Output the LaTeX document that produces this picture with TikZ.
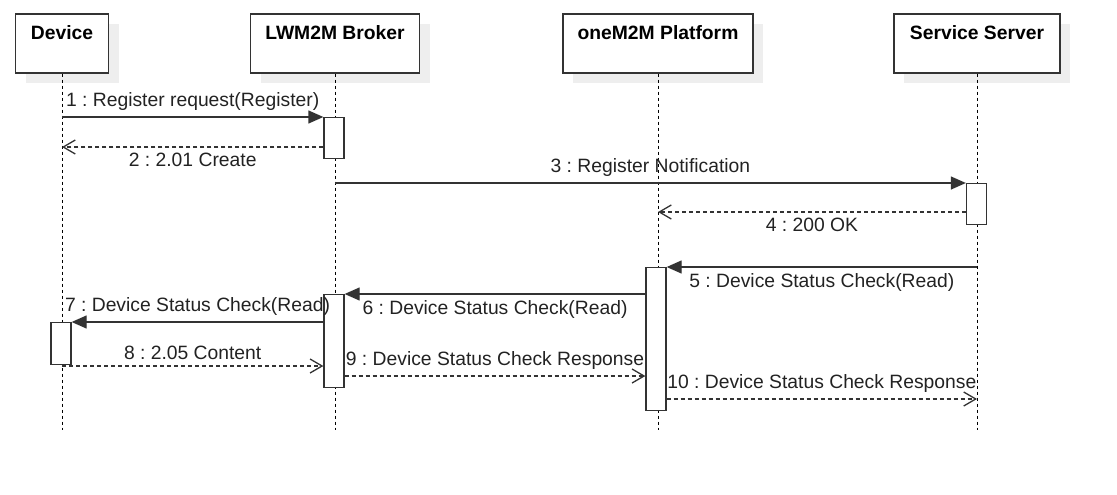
\documentclass[tikz,border=0pt]{standalone}
\usepackage{fontspec}
\setmainfont{Liberation Sans}
\usetikzlibrary{arrows.meta, positioning, calc}
\definecolor{lnclr}{HTML}{333333}
\definecolor{shdw}{HTML}{EEEEEE}
\definecolor{txtclr}{HTML}{222222}
\frenchspacing

\begin{document}
\begin{tikzpicture}[
  x=1pt, y=-1pt,
  actor/.style={rectangle, draw=lnclr, line width=1.3pt, fill=white,
    minimum height=59pt, inner sep=0pt, text height=26pt, text depth=33pt,
    font=\fontsize{19.3}{22}\selectfont\bfseries, text=black,
    preaction={fill=shdw, transform canvas={shift={(10pt,-10pt)}}}},
  life/.style={draw=black, line width=1pt, dash pattern=on 3pt off 3pt},
  actbox/.style={rectangle, draw=lnclr, line width=1.3pt, fill=white,
    minimum width=20pt, inner sep=0pt, anchor=north},
  msg/.style={draw=lnclr, line width=1.3pt, -{Triangle[length=15pt, width=13pt]}},
  reply/.style={draw=lnclr, line width=1.3pt, dash pattern=on 4pt off 3pt,
    -{Straight Barb[length=12pt, width=14pt]}},
  lbl/.style={font=\fontsize{19.3}{22}\selectfont, text=txtclr, inner sep=2pt},
]
\useasboundingbox (0,0) rectangle (1117,495);

% Participants
\node[actor, minimum width=93pt] (dev) at (62,43.5) {Device};
\node[actor, minimum width=169pt] (brk) at (335,43.5) {LWM2M Broker};
\node[actor, minimum width=190pt] (plt) at (658,43.5) {oneM2M Platform};
\node[actor, minimum width=166pt] (srv) at (977,43.5) {Service Server};

% Lifelines
\foreach \p in {dev, brk, plt, srv}
  \draw[life] (\p) -- (\p |- 0,430);

% Activations
\node[actbox, minimum height=41pt] (a1) at (334,117) {};
\node[actbox, minimum height=41pt] (a2) at (976.5,183) {};
\node[actbox, minimum height=143pt] (a3) at (656,267) {};
\node[actbox, minimum height=93pt] (a4) at (334,294) {};
\node[actbox, minimum height=42pt] (a5) at (61,322) {};

% Messages
\draw[msg] (dev |- a1.north) -- node[lbl, above=4pt] {1 : Register request(Register)} (a1.north west);
\draw[reply] (a1.west |- 0,147) -- node[lbl, below=3pt] {2 : 2.01 Create} (dev |- 0,147);
\draw[msg] (brk |- a2.north) -- node[lbl, above=4pt] {3 : Register Notification} (a2.north west);
\draw[reply] (a2.west |- 0,212) -- node[lbl, below=3pt] {4 : 200 OK} (plt |- 0,212);
\draw[msg] (srv |- a3.north) -- node[lbl, below=4pt] {5 : Device Status Check(Read)} (a3.north east);
\draw[msg] (a3.west |- a4.north) -- node[lbl, below=4pt] {6 : Device Status Check(Read)} (a4.north east);
\draw[msg] (a4.west |- a5.north) -- node[lbl, above=4pt] {7 : Device Status Check(Read)} (a5.north east);
\draw[reply] (dev |- 0,366) -- node[lbl, above=4pt] {8 : 2.05 Content} (a4.west |- 0,366);
\draw[reply] (a4.east |- 0,376) -- node[lbl, above=4pt] {9 : Device Status Check Response} (a3.west |- 0,376);
\draw[reply] (a3.east |- 0,399) -- node[lbl, above=4pt] {10 : Device Status Check Response} (srv |- 0,399);
\end{tikzpicture}
\end{document}
